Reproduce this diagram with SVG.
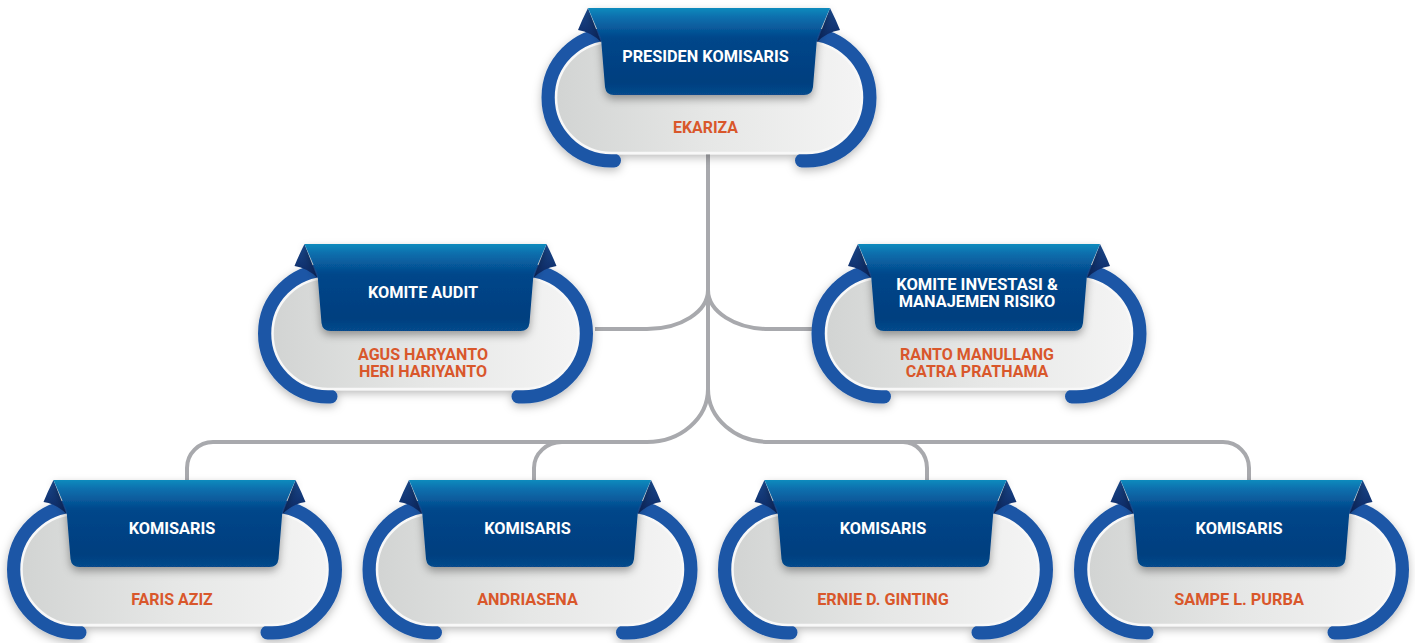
<svg xmlns="http://www.w3.org/2000/svg" xmlns:xlink="http://www.w3.org/1999/xlink" width="1415" height="643" viewBox="0 0 1415 643">
<style>
.conn{fill:none;stroke:#a8a9ad;stroke-width:4}
.title{font-family:Roboto,"Liberation Sans",sans-serif;font-weight:bold;font-size:16px;fill:#ffffff;text-anchor:middle}
.name{font-family:Roboto,"Liberation Sans",sans-serif;font-weight:bold;font-size:16px;fill:#d9572b;text-anchor:middle}
</style>
<defs>
<linearGradient id="pillGrad" x1="0" y1="0" x2="1" y2="0">
<stop offset="0" stop-color="#d2d4d3"/>
<stop offset="0.5" stop-color="#e6e7e6"/>
<stop offset="1" stop-color="#f4f4f4"/>
</linearGradient>
<linearGradient id="ribGrad" x1="0" y1="0" x2="0" y2="1">
<stop offset="0" stop-color="#0b8bbd"/>
<stop offset="0.1" stop-color="#0a70ae"/>
<stop offset="0.35" stop-color="#04468a"/>
<stop offset="0.85" stop-color="#023f7f"/>
<stop offset="1" stop-color="#074a8c"/>
</linearGradient>
<linearGradient id="foldGrad" x1="0" y1="0" x2="0" y2="1">
<stop offset="0" stop-color="#1b4a8e"/>
<stop offset="1" stop-color="#0b2660"/>
</linearGradient>
<filter id="softShadow" x="-20%" y="-20%" width="140%" height="150%">
<feDropShadow dx="0" dy="3" stdDeviation="5" flood-color="#000" flood-opacity="0.28"/>
</filter>
<filter id="ribShadow" x="-20%" y="-20%" width="140%" height="160%">
<feDropShadow dx="0" dy="4" stdDeviation="4" flood-color="#000" flood-opacity="0.35"/>
</filter>
<g id="nodeShape">
<g filter="url(#softShadow)">
<path d="M-85,26.5 H-97.5 A63,63 0 0 0 -97.5,152.5 H-95" fill="none" stroke="#1e57a6" stroke-width="14" stroke-linecap="round"/>
<path d="M85,26.5 H97.5 A63,63 0 0 1 97.5,152.5 H93" fill="none" stroke="#1e57a6" stroke-width="14" stroke-linecap="round"/>
<rect x="-153" y="34" width="306" height="111" rx="55.5" ry="55.5" fill="url(#pillGrad)" stroke="#f8f8f8" stroke-width="2.5"/>
</g>
<path d="M-121,0 Q-127,12 -131,22 Q-118,24 -108,34 Z" fill="url(#foldGrad)"/>
<path d="M121,0 Q127,12 131,22 Q118,24 108,34 Z" fill="url(#foldGrad)"/>
<path d="M-121,0 H121 L108,30 L104,79 Q103,87 95,87 H-95 Q-103,87 -104,79 L-108,30 Z" fill="url(#ribGrad)" filter="url(#ribShadow)"/>
</g>
</defs>

<g id="connectors">
<path class="conn" d="M708,150 V389"/>
<path class="conn" d="M708,290 A61,39 0 0 1 647,329 H595"/>
<path class="conn" d="M708,290 A61,39 0 0 0 769,329 H812"/>
<path class="conn" d="M708,389 A61,53 0 0 1 647,442 H213 A26,26 0 0 0 187,468 V484"/>
<path class="conn" d="M708,389 A61,53 0 0 0 769,442 H1223 A26,26 0 0 1 1249,468 V484"/>
<path class="conn" d="M562,442 A28,26 0 0 0 534,468 V484"/>
<path class="conn" d="M903,442 A24,26 0 0 1 927,468 V484"/>
</g>

<g id="node-presiden">
<use xlink:href="#nodeShape" href="#nodeShape" transform="translate(709,8)"/>
<text class="title" x="705.5" y="62" textLength="166.7" lengthAdjust="spacingAndGlyphs">PRESIDEN KOMISARIS</text>
<text class="name" x="705.5" y="133" textLength="65" lengthAdjust="spacingAndGlyphs">EKARIZA</text>
</g>

<g id="node-komite-audit">
<use xlink:href="#nodeShape" href="#nodeShape" transform="translate(425.5,244)"/>
<text class="title" x="423" y="297.5" textLength="110" lengthAdjust="spacingAndGlyphs">KOMITE AUDIT</text>
<text class="name" x="423" y="360" textLength="130" lengthAdjust="spacingAndGlyphs">AGUS HARYANTO</text>
<text class="name" x="423" y="377" textLength="128" lengthAdjust="spacingAndGlyphs">HERI HARIYANTO</text>
</g>

<g id="node-komite-investasi">
<use xlink:href="#nodeShape" href="#nodeShape" transform="translate(979,244)"/>
<text class="title" x="977" y="290" textLength="161.7" lengthAdjust="spacingAndGlyphs">KOMITE INVESTASI &amp;</text>
<text class="title" x="977" y="307" textLength="156.7" lengthAdjust="spacingAndGlyphs">MANAJEMEN RISIKO</text>
<text class="name" x="977" y="360" textLength="154" lengthAdjust="spacingAndGlyphs">RANTO MANULLANG</text>
<text class="name" x="977" y="377" textLength="142.7" lengthAdjust="spacingAndGlyphs">CATRA PRATHAMA</text>
</g>

<g id="node-komisaris-1">
<use xlink:href="#nodeShape" href="#nodeShape" transform="translate(174.5,480)"/>
<text class="title" x="172" y="533.5" textLength="86.7" lengthAdjust="spacingAndGlyphs">KOMISARIS</text>
<text class="name" x="172" y="605" textLength="81.7" lengthAdjust="spacingAndGlyphs">FARIS AZIZ</text>
</g>

<g id="node-komisaris-2">
<use xlink:href="#nodeShape" href="#nodeShape" transform="translate(530,480)"/>
<text class="title" x="527.5" y="533.5" textLength="86.5" lengthAdjust="spacingAndGlyphs">KOMISARIS</text>
<text class="name" x="527.5" y="605" textLength="100.7" lengthAdjust="spacingAndGlyphs">ANDRIASENA</text>
</g>

<g id="node-komisaris-3">
<use xlink:href="#nodeShape" href="#nodeShape" transform="translate(885.5,480)"/>
<text class="title" x="883" y="533.5" textLength="86.7" lengthAdjust="spacingAndGlyphs">KOMISARIS</text>
<text class="name" x="883" y="605" textLength="131.7" lengthAdjust="spacingAndGlyphs">ERNIE D. GINTING</text>
</g>

<g id="node-komisaris-4">
<use xlink:href="#nodeShape" href="#nodeShape" transform="translate(1241.5,480)"/>
<text class="title" x="1239" y="533.5" textLength="87" lengthAdjust="spacingAndGlyphs">KOMISARIS</text>
<text class="name" x="1239" y="605" textLength="129.7" lengthAdjust="spacingAndGlyphs">SAMPE L. PURBA</text>
</g>
</svg>
